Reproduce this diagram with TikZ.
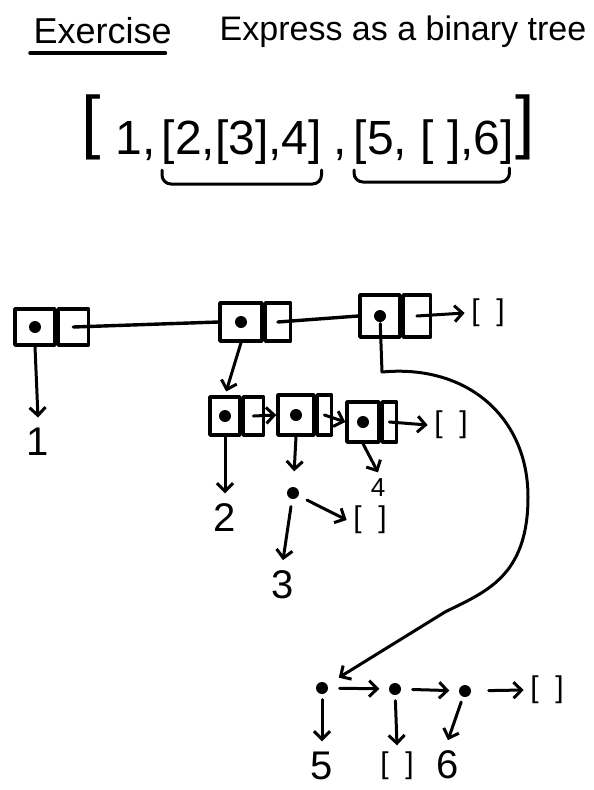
\documentclass[tikz,border=0pt]{standalone}
\usepackage{fontspec}
\setmainfont{Liberation Sans}
\usetikzlibrary{arrows.meta, positioning, calc}
\newcommand{\fsz}[1]{\fontsize{#1}{#1}\selectfont}
\tikzset{
  every picture/.style={line width=3.4pt, line cap=round, line join=round},
  carbox/.style={draw, inner sep=0pt},
  cdrbox/.style={draw, inner sep=0pt},
  dot/.style={circle, fill, inner sep=0pt, minimum size=12pt},
  ptr/.style={-{Straight Barb[length=8pt, width=16pt]}, line width=3pt},
  val/.style={font=\fsz{40}, inner sep=9pt},
  nil/.style={font=\fsz{30}, inner sep=5pt},
  heading/.style={font=\fsz{#1}, inner sep=0pt, anchor=base west},
  heading/.default=36,
  brace/.style={rounded corners=9pt, line width=3pt},
}
% a cons cell: name, position, car width, cdr width, height
\newcommand{\conscell}[5]{
  \node[carbox, minimum width=#3pt, minimum height=#5pt] (#1) at (#2) {};
  \node[cdrbox, minimum width=#4pt, minimum height=#5pt, right=0pt of #1] (#1d) {};
  \node[dot] (#1p) at (#1.center) {};
}
\begin{document}
\begin{tikzpicture}[x=1pt, y=-1pt]
  \useasboundingbox (0,0) rectangle (594,790);

  % heading
  \node[heading] (ex) at (32,43) {Exercise};
  \draw ([shift={(-2,10)}]ex.base west) -- ([shift={(-8,10)}]ex.base east);
  \node[heading=34] (task) at (218,40) {Express as a binary tree};

  % the list
  \node[heading=70] (lb) at (80,145) {[};
  \node[heading=48] (one) at (114,154) {1,};
  \node[heading=48] (ga) at (160,154) {[2,[3],4]};
  \node[heading=48] (sep) at (332,154) {,};
  \node[heading=48] (gb) at (352,154) {[5, [ ],6]};
  \node[heading=70] (rb) at (514,145) {]};
  \draw[brace] ([shift={(2,16)}]ga.base west) |- ([shift={(-2,30)}]ga.base east) -- ++(0,-14);
  \draw[brace] ([shift={(2,16)}]gb.base west) |- ([shift={(-6,28)}]gb.base east) -- ++(0,-14);

  % top row
  \conscell{ta}{35,327}{40}{30}{36}
  \conscell{tb}{241,322}{42}{25}{38}
  \conscell{tc}{380,316}{40}{27}{42}
  \node[nil] (nil1) at (488,313) {[~~]};
  \node[val] (v1) at (38,442) {1};
  \draw (tad.center) -- (tb.west);
  \draw (tbd.center) -- (tc.west);
  \draw[ptr] (tcd.center) -- (nil1.west);
  \draw[ptr] (ta.south) -- (v1.north);

  % [2,[3],4]
  \conscell{ia}{225,416}{30}{20}{38}
  \conscell{ib}{296,415}{36}{14}{40}
  \conscell{ic}{363,422}{32}{14}{40}
  \node[nil] (nil2) at (451,425) {[~~]};
  \node[dot] (three) at (293,493) {};
  \node[nil] (nil3) at (370,520) {[~~]};
  \node[val] (v2) at (225,518) {2};
  \node[val] (v3) at (283,585) {3};
  \node[val, font=\fsz{26}, inner sep=5pt] (v4) at (378,488) {4};
  \draw[ptr, shorten >=4pt] (tb.south) -- (ia.north);
  \draw[ptr] (iad.center) -- (ib.west);
  \draw[ptr] (ibd.center) -- (ic.west);
  \draw[ptr] (icd.center) -- (nil2.west);
  \draw[ptr] (ia.south) -- (v2.north);
  \draw[ptr, shorten >=14pt] (ib.south) -- (three);
  \draw[ptr, shorten <=6pt] (three) -- (v3.north);
  \draw[ptr, shorten <=8pt] (three) -- (nil3.west);
  \draw[ptr] (ic.south) -- (v4.north);

  % [5,[],6]
  \node[dot] (la) at (322,688) {};
  \node[dot] (lb2) at (395,689) {};
  \node[dot] (lc) at (465,691) {};
  \node[nil] (nil4) at (547,690) {[~~]};
  \node[val] (v5) at (322,766) {5};
  \node[nil] (nil5) at (397,766) {[~~]};
  \node[val] (v6) at (448,765) {6};
  \draw[ptr, shorten <=10pt, shorten >=8pt] (la) -- (lb2);
  \draw[ptr, shorten <=10pt, shorten >=8pt] (lb2) -- (lc);
  \draw[ptr, shorten <=16pt] (lc) -- (nil4.west);
  \draw[ptr, shorten <=4pt] (la) -- (v5.north);
  \draw[ptr, shorten <=4pt] (lb2) -- (nil5.north);
  \draw[ptr, shorten <=4pt] (lc) -- (v6.north);

  % from the third top cell down to [5,[],6]
  \coordinate (hook) at (382,372);
  \coordinate (far) at (528,497);
  \coordinate (low) at (445,612);
  \draw[ptr, shorten >=12pt] (tcp) -- (hook) .. controls +(85,-8) and +(0,-80) .. (far)
    .. controls +(0,80) and +(40,-20) .. (low) -- (la);
\end{tikzpicture}
\end{document}
